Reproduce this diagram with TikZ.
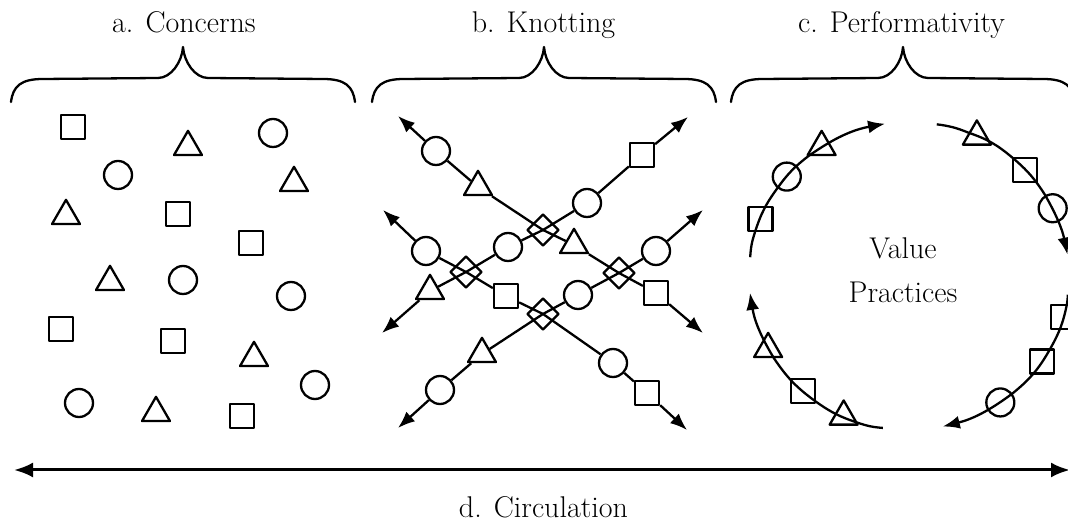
\documentclass[tikz,border=0pt]{standalone}
\usepackage{fontspec}
\usetikzlibrary{arrows.meta,shapes.geometric,calc}
\begin{document}
\begin{tikzpicture}[x=1pt,y=1pt,
  shp/.style={draw, line width=2.3pt, fill=white, inner sep=0pt, line join=round},
  sq/.style={shp, rectangle, minimum size=24pt},
  ci/.style={shp, circle, minimum size=28pt},
  tri/.style={shp, regular polygon, regular polygon sides=3, minimum size=32.3pt},
  trib/.style={tri, yshift=-4pt},
  dia/.style={draw, line width=2.3pt, rectangle, rotate=45, minimum size=22pt, inner sep=0pt, line join=round},
  knot/.style={line width=2.3pt},
  tipk/.style={line width=2.3pt, -{Latex[length=17pt,width=13pt]}},
  ringarc/.style={line width=2.3pt, -{Latex[length=17pt,width=13pt]}},
  brc/.style={line width=2.3pt, line cap=round, line join=round},
  lbl/.style={font=\fontsize{30}{36}\selectfont, anchor=base, inner sep=0pt}]
\useasboundingbox (0,0) rectangle (1068,524);
\clip (0,0) rectangle (1068,524);
\fill[white] (0,0) rectangle (1068,524);

% titles
\node[lbl] (ta) at (184,491) {a. Concerns};
\node[lbl] (tb) at (543.5,491) {b. Knotting};
\node[lbl] (tc) at (901.5,491) {c. Performativity};
\node[lbl] (td) at (543.5,6) {d. Circulation};

% braces
\foreach \cx in {183,544,903} {
  \draw[brc] (\cx-172,422) .. controls (\cx-170,438) and (\cx-162,445) .. (\cx-140,445)
    -- (\cx-25,446) .. controls (\cx-12,446) and (\cx-1,462) .. (\cx,477)
    .. controls (\cx+1,462) and (\cx+12,446) .. (\cx+25,446)
    -- (\cx+140,445) .. controls (\cx+162,445) and (\cx+170,438) .. (\cx+172,422);
}

% a. Concerns
\node[sq] (as1) at (73,397) {};
\node[sq] (as2) at (178,310) {};
\node[sq] (as3) at (251,281) {};
\node[sq] (as4) at (61,195) {};
\node[sq] (as5) at (173,183) {};
\node[sq] (as6) at (242,108) {};
\node[ci] (ac1) at (273,391) {};
\node[ci] (ac2) at (118,349) {};
\node[ci] (ac3) at (183,244) {};
\node[ci] (ac4) at (291,228) {};
\node[ci] (ac5) at (315,139) {};
\node[ci] (ac6) at (79,121) {};
\node[trib] (at1) at (188,381) {};
\node[trib] (at2) at (294,345) {};
\node[trib] (at3) at (66,312) {};
\node[trib] (at4) at (110,246) {};
\node[trib] (at5) at (254,170) {};
\node[trib] (at6) at (156,115) {};

% b. Knotting
\node[dia] (D12) at (543,294) {};
\node[dia] (D23) at (466,252) {};
\node[dia] (D34) at (543,210) {};
\node[dia] (D14) at (619,251) {};
% line 1
\coordinate (k1a) at (398,408);
\node[ci] (k1c) at (436,373) {};
\node[trib] (k1t) at (478,341) {};
\node[trib] (k1t2) at (574,283) {};
\node[sq] (k1s) at (656,231) {};
\coordinate (k1b) at (703,191);
% line 2
\coordinate (k2a) at (382,191);
\node[trib] (k2t) at (430,237) {};
\node[ci] (k2c) at (508,277) {};
\node[ci] (k2c2) at (587,321) {};
\node[sq] (k2s) at (642,369) {};
\coordinate (k2b) at (688,407);
% line 3
\coordinate (k3a) at (383,314);
\node[ci] (k3c) at (426,273) {};
\node[sq] (k3s) at (506,228) {};
\node[ci] (k3c2) at (613,161) {};
\node[sq] (k3s2) at (647,131) {};
\coordinate (k3b) at (687,94);
% line 4
\coordinate (k4a) at (398,96);
\node[ci] (k4c) at (440,134) {};
\node[trib] (k4t) at (482,174) {};
\node[ci] (k4c2) at (578,229) {};
\node[ci] (k4c3) at (656,273) {};
\coordinate (k4b) at (703,314);

\draw[knot] (k1c) -- (k1t) -- (D12.center) -- (k1t2) -- (D14.center) -- (k1s);
\draw[knot] (k2t) -- (D23.center) -- (k2c) -- (D12.center) -- (k2c2) -- (k2s);
\draw[knot] (k3c) -- (D23.center) -- (k3s) -- (D34.center) -- (k3c2) -- (k3s2);
\draw[knot] (k4c) -- (k4t) -- (D34.center) -- (k4c2) -- (D14.center) -- (k4c3);
\draw[tipk] (k1c) -- (k1a);
\draw[tipk] (k1s) -- (k1b);
\draw[tipk] (k2t) -- (k2a);
\draw[tipk] (k2s) -- (k2b);
\draw[tipk] (k3c) -- (k3a);
\draw[tipk] (k3s2) -- (k3b);
\draw[tipk] (k4c) -- (k4a);
\draw[tipk] (k4c3) -- (k4b);

% c. Performativity
\coordinate (C) at (909,248);
\node[lbl] (v1) at (903,265) {Value};
\node[lbl] (v2) at (903,221) {Practices};
% arc 1
\coordinate (p1a) at ($(C)+(173:160 and 154)$);
\node[sq] (p1s) at ($(C)+(158.3:160 and 154)$) {};
\node[ci] (p1c) at ($(C)+(139.8:160 and 154)$) {};
\node[tri] (p1t) at ($(C)+(123.1:160 and 154)$) {};
\coordinate (p1b) at ($(C)+(98.6:160 and 154)$);
% arc 2
\coordinate (p2a) at ($(C)+(80:160 and 154)$);
\node[tri] (p2t) at ($(C)+(64.9:160 and 154)$) {};
\node[sq] (p2s) at ($(C)+(43.6:160 and 154)$) {};
\node[ci] (p2c) at ($(C)+(26.1:160 and 154)$) {};
\coordinate (p2b) at ($(C)+(8:160 and 154)$);
% arc 3
\coordinate (p3a) at ($(C)+(-7:160 and 154)$);
\node[sq] (p3s) at ($(C)+(-15.5:160 and 154)$) {};
\node[sq] (p3s2) at ($(C)+(-33.7:160 and 154)$) {};
\node[ci] (p3c) at ($(C)+(-55.2:160 and 154)$) {};
\coordinate (p3b) at ($(C)+(-77.8:160 and 154)$);
% arc 4
\coordinate (p4a) at ($(C)+(260.6:160 and 154)$);
\node[tri] (p4t) at ($(C)+(245.9:160 and 154)$) {};
\node[sq] (p4s) at ($(C)+(228.4:160 and 154)$) {};
\node[tri] (p4t2) at ($(C)+(208.3:160 and 154)$) {};
\coordinate (p4b) at ($(C)+(186.3:160 and 154)$);

\draw[ringarc] (p1a) to[bend left=7.4] (p1s) to[bend left=9.3] (p1c) to[bend left=8.4] (p1t) to[bend left=12.3] (p1b);
\draw[ringarc] (p2a) to[bend left=7.6] (p2t) to[bend left=10.7] (p2s) to[bend left=8.8] (p2c) to[bend left=9] (p2b);
\draw[ringarc] (p3a) to[bend left=4.3] (p3s) to[bend left=9.1] (p3s2) to[bend left=10.8] (p3c) to[bend left=11.3] (p3b);
\draw[ringarc] (p4a) to[bend left=7.4] (p4t) to[bend left=8.8] (p4s) to[bend left=10.1] (p4t2) to[bend left=11] (p4b);

% d. Circulation
\coordinate (dl) at (14,54);
\coordinate (dr) at (1070,54);
\draw[line width=3pt, {Latex[length=19pt,width=15pt]}-{Latex[length=19pt,width=15pt]}] (dl) -- (dr);
\end{tikzpicture}
\end{document}
